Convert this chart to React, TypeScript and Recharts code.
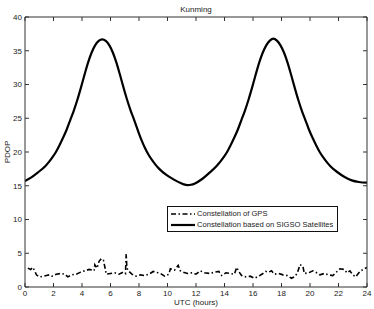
import React from 'react';
import { LineChart, Line, XAxis, YAxis, Legend } from 'recharts';

const title = 'Kunming';
const xLabel = 'UTC (hours)';
const yLabel = 'PDOP';
const xTicks = [0, 2, 4, 6, 8, 10, 12, 14, 16, 18, 20, 22, 24];
const yTicks = [0, 5, 10, 15, 20, 25, 30, 35, 40];
const seriesNames = ['Constellation of GPS', 'Constellation based on SIGSO Satellites'];

const sigsoHours = [
  0, 0.42, 0.92, 1.42, 1.67, 1.92, 2.17, 2.42, 2.67, 2.92, 3.17, 3.42, 3.67, 3.92, 4.17, 4.42, 4.67, 4.92, 5.17, 5.42,
  5.67, 5.92, 6.17, 6.42, 6.67, 6.92, 7.17, 7.42, 7.67, 7.92, 8.17, 8.42, 8.67, 8.92, 9.17, 9.42, 9.92, 10.42, 10.92, 11.15, 11.4, 11.65,
  11.93, 12.43, 12.93, 13.43, 13.68, 13.93, 14.18, 14.43, 14.68, 14.93, 15.18, 15.43, 15.68, 15.93, 16.18, 16.43, 16.68, 16.93, 17.18, 17.43,
  17.68, 17.93, 18.18, 18.43, 18.68, 18.93, 19.18, 19.43, 19.68, 19.93, 20.18, 20.43, 20.68, 20.93, 21.18, 21.43, 21.93, 22.43, 22.93, 23.43, 24.0,
];
const sigsoValues = [
  15.7, 16.2, 17.0, 17.9, 18.5, 19.2, 20.0, 21.0, 22.1, 23.3, 24.7, 26.1, 27.7, 29.5, 31.4, 33.2, 34.7, 35.8, 36.45, 36.7,
  36.45, 35.8, 34.7, 33.2, 31.4, 29.5, 27.7, 26.1, 24.7, 23.2, 21.8, 20.6, 19.6, 18.8, 18.1, 17.5, 16.6, 15.95, 15.4, 15.2, 15.1, 15.15,
  15.35, 16.0, 16.9, 17.9, 18.5, 19.2, 20.0, 21.0, 22.1, 23.3, 24.7, 26.1, 27.7, 29.5, 31.4, 33.2, 34.7, 35.8, 36.5, 36.8,
  36.5, 35.8, 34.7, 33.2, 31.4, 29.5, 27.7, 26.1, 24.7, 23.3, 22.1, 21.0, 20.0, 19.2, 18.5, 17.9, 17.0, 16.3, 15.8, 15.55, 15.45,
];

const gpsHours = [
  0.2, 0.4, 0.55, 0.7, 0.8, 1.0, 1.3, 1.5, 1.7, 1.9, 2.2, 2.5, 2.8, 3.0, 3.3, 3.6, 3.9, 4.2, 4.5, 4.7, 4.85, 4.9, 5.05, 5.2, 5.35, 5.5, 5.6, 5.7,
  6.0, 6.3, 6.6, 6.9, 7.05, 7.1, 7.15, 7.3, 7.5, 7.8, 8.1, 8.4, 8.7, 9.0, 9.2, 9.5, 9.8, 10.1, 10.2, 10.5, 10.75, 10.9, 11.1, 11.4, 11.7,
  12.0, 12.3, 12.6, 13.0, 13.3, 13.6, 13.8, 14.1, 14.4, 14.7, 14.85, 15.0, 15.2, 15.5, 15.8, 16.1, 16.4, 16.7, 16.9, 17.1, 17.3, 17.5, 17.8,
  18.1, 18.4, 18.7, 18.9, 19.1, 19.3, 19.5, 19.6, 19.9, 20.2, 20.4, 20.7, 21.0, 21.3, 21.6, 21.9, 22.1, 22.4, 22.6, 22.8, 23.0, 23.2, 23.5, 23.8, 24.0,
];
const gpsValues = [
  2.8, 2.6, 2.9, 2.3, 1.8, 1.5, 1.6, 1.7, 1.8, 1.6, 1.9, 2.0, 1.9, 1.5, 1.8, 1.9, 2.2, 2.4, 2.6, 2.5, 2.4, 3.3, 2.8, 3.8, 4.2, 4.0, 3.0, 1.9,
  2.0, 2.1, 1.9, 2.2, 2.0, 4.9, 2.8, 2.3, 1.9, 1.6, 1.8, 1.7, 1.9, 2.3, 2.2, 2.0, 1.6, 1.9, 2.7, 2.5, 3.2, 2.4, 2.2, 2.0, 2.1,
  1.9, 2.4, 2.1, 2.0, 2.2, 2.3, 1.7, 2.1, 2.0, 1.9, 2.9, 2.3, 1.7, 1.5, 1.6, 1.3, 1.6, 2.0, 2.3, 2.2, 2.4, 1.9, 2.0,
  1.8, 1.7, 1.3, 1.5, 2.0, 3.3, 3.1, 2.0, 2.1, 2.4, 2.2, 1.8, 2.0, 1.8, 1.7, 2.3, 2.7, 2.6, 2.1, 2.4, 1.8, 1.5, 2.3, 2.7, 2.9,
];

const sigsoData = sigsoHours.map((h, i) => ({ h, v: sigsoValues[i] }));
const gpsData = gpsHours.map((h, i) => ({ h, v: gpsValues[i] }));

const FONT = 'Liberation Sans, Arial, Helvetica, sans-serif';
const TEXT = '#222';
const AXIS = '#333';
const GPS_DASH = '5 2.5 1.5 2.5';

const renderLegend = () => (
  <div
    style={{
      width: 171,
      height: 26,
      border: '1px solid #111',
      background: '#fff',
      fontFamily: FONT,
      fontSize: 7.6,
      color: TEXT,
      boxSizing: 'border-box',
      paddingTop: 2,
    }}
  >
    {seriesNames.map((name, i) => (
      <div key={name} style={{ display: 'flex', alignItems: 'center', height: 10.5, lineHeight: '10px' }}>
        <svg width={29} height={10} style={{ display: 'block' }}>
          <line
            x1={3}
            x2={27}
            y1={5}
            y2={5}
            stroke="#000"
            strokeWidth={i === 0 ? 1.6 : 2.2}
            strokeDasharray={i === 0 ? GPS_DASH : undefined}
          />
        </svg>
        <span style={{ whiteSpace: 'nowrap' }}>{name}</span>
      </div>
    ))}
  </div>
);

const YLabel = (props: any) => {
  const vb = props.viewBox || {};
  const cy = (vb.y || 0) + (vb.height || 0) / 2;
  return (
    <text
      x={7}
      y={cy}
      transform={`rotate(-90 7 ${cy})`}
      textAnchor="middle"
      dominantBaseline="central"
      fontSize={8}
      fontFamily={FONT}
      fill={TEXT}
    >
      {yLabel}
    </text>
  );
};

export default function App() {
  return (
    <div style={{ position: 'absolute', left: 0, top: 0, width: 374, height: 309, background: '#fff' }}>
      <LineChart width={374} height={309} margin={{ top: 16, right: 6, bottom: 0, left: 0 }}>
        <XAxis
          dataKey="h"
          type="number"
          domain={[0, 24]}
          ticks={xTicks}
          allowDataOverflow
          height={22}
          stroke={AXIS}
          tickSize={-4}
          tickMargin={7}
          tick={{ fontSize: 8, fill: TEXT, fontFamily: FONT }}
          interval={0}
          label={{ value: xLabel, position: 'insideBottom', offset: 4, fontSize: 8, fill: TEXT, fontFamily: FONT }}
        />
        <XAxis
          xAxisId="top"
          orientation="top"
          dataKey="h"
          type="number"
          domain={[0, 24]}
          ticks={xTicks}
          allowDataOverflow
          height={1}
          stroke={AXIS}
          tickSize={-4}
          tickMargin={0}
          tickFormatter={() => ''}
          interval={0}
          label={{ value: title, position: 'top', offset: 4, fontSize: 8, fill: TEXT, fontFamily: FONT }}
        />
        <YAxis
          type="number"
          domain={[0, 40]}
          ticks={yTicks}
          allowDataOverflow
          width={25}
          stroke={AXIS}
          tickSize={-4}
          tickMargin={7}
          tick={{ fontSize: 8, fill: TEXT, fontFamily: FONT }}
          interval={0}
          label={<YLabel />}
        />
        <YAxis
          yAxisId="right"
          orientation="right"
          type="number"
          domain={[0, 40]}
          ticks={yTicks}
          allowDataOverflow
          width={1}
          stroke={AXIS}
          tickSize={-4}
          tickMargin={0}
          tickFormatter={() => ''}
          interval={0}
        />
        <Legend
          layout="vertical"
          align="center"
          verticalAlign="middle"
          content={renderLegend}
          wrapperStyle={{ left: 167, top: 206, width: 171, height: 26 }}
        />
        <Line
          data={gpsData}
          dataKey="v"
          name={seriesNames[0]}
          type="linear"
          stroke="#000"
          strokeWidth={1.6}
          strokeDasharray={GPS_DASH}
          dot={false}
          isAnimationActive={false}
        />
        <Line
          data={sigsoData}
          dataKey="v"
          name={seriesNames[1]}
          type="monotone"
          stroke="#000"
          strokeWidth={2.2}
          dot={false}
          isAnimationActive={false}
        />
        <Line
          xAxisId="top"
          yAxisId="right"
          data={sigsoData}
          dataKey="v"
          stroke="none"
          legendType="none"
          dot={false}
          activeDot={false}
          isAnimationActive={false}
        />
      </LineChart>
    </div>
  );
}
